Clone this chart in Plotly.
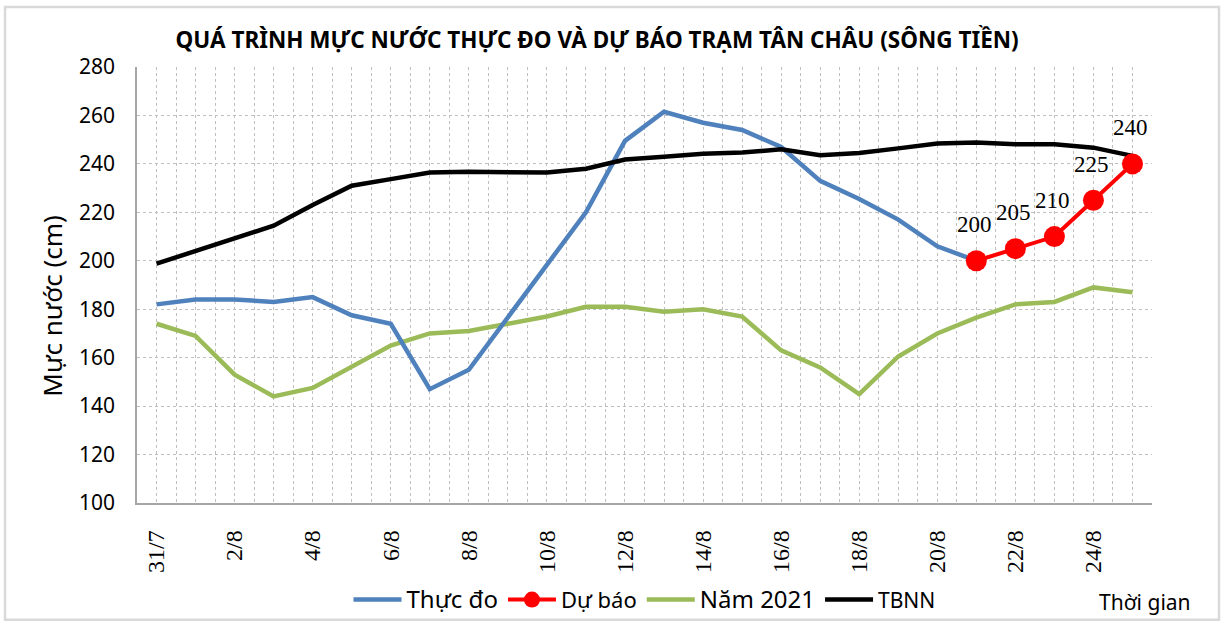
import plotly.graph_objects as go

categories = ["31/7", "1/8", "2/8", "3/8", "4/8", "5/8", "6/8", "7/8", "8/8", "9/8",
              "10/8", "11/8", "12/8", "13/8", "14/8", "15/8", "16/8", "17/8", "18/8",
              "19/8", "20/8", "21/8", "22/8", "23/8", "24/8", "25/8"]

thuc_do = [182, 184, 184, 183, 185, 177.5, 174, 147, 155, 176.5, 198, 220, 249.5,
           261.5, 257, 254, 247, 233, 225.5, 217, 206, 200,
           None, None, None, None]

du_bao = [None] * 21 + [200, 205, 210, 225, 240]

nam_2021 = [174, 169, 153, 144, 147.5, 156, 165, 170, 171, 174, 177, 181, 181,
            179, 180, 177, 163, 156, 145, 160.5, 170, 176.5, 182, 183, 189, 187]

tbnn = [198.8, 204, 209.5, 214.5, 223, 231, 233.7, 236.4, 236.8, 236.4, 236.4, 238,
        241.8, 242.9, 244.2, 244.7, 246, 243.6, 244.5, 246.4, 248.4, 248.8, 248.1,
        248.1, 246.7, 243.3]

y_ticks = [100, 120, 140, 160, 180, 200, 220, 240, 260, 280]

x = list(range(len(categories)))

SANS = "Noto Sans"
SERIF = "Liberation Serif"


def lg(name, size):
    return f'<span style="font-size:{size}px">{name}</span>'


fig = go.Figure()

fig.add_trace(go.Scatter(x=x, y=nam_2021, mode="lines", name=lg("Năm 2021", 24),
                         line=dict(color="#9BBB59", width=4.5), legendrank=3))
fig.add_trace(go.Scatter(x=x, y=thuc_do, mode="lines", name=lg("Thực đo", 24),
                         line=dict(color="#4F81BD", width=4.5), legendrank=1))
fig.add_trace(go.Scatter(x=x, y=tbnn, mode="lines", name=lg("TBNN", 21),
                         line=dict(color="#000000", width=4.5), legendrank=4))
fig.add_trace(go.Scatter(x=x, y=du_bao, mode="lines+markers", name=lg("Dự báo", 22),
                         line=dict(color="#FF0000", width=4),
                         marker=dict(color="#FF0000", size=21), legendrank=2))

# data labels for forecast
for xi, yi in zip(x, du_bao):
    if yi is None:
        continue
    fig.add_annotation(x=xi, y=yi, text=f"{yi:g}", showarrow=False,
                       yshift=36, xshift=-2,
                       font=dict(family=SERIF, size=23, color="#000000"))

# axis title (y)
fig.add_annotation(xref="paper", yref="paper", x=-0.084, y=0.452,
                   xanchor="center", yanchor="middle",
                   text="Mực nước (cm)", textangle=-90, showarrow=False,
                   font=dict(family=SANS, size=26, color="#000000"))

# "Thời gian"
fig.add_annotation(xref="paper", yref="paper", x=0.993, y=-0.227,
                   xanchor="center", yanchor="middle",
                   text="Thời gian", showarrow=False,
                   font=dict(family=SANS, size=21, color="#000000"))

# outer border
fig.add_shape(type="rect", xref="paper", yref="paper",
              x0=-0.130, x1=1.066, y0=-0.268, y1=1.1376,
              line=dict(color="#D9D9D9", width=2.5), layer="below")

grid_col = "#BFBFBF"

fig.update_layout(
    width=1226, height=624,
    margin=dict(l=137, r=74, t=67, b=121, autoexpand=False),
    paper_bgcolor="white", plot_bgcolor="white",
    title=dict(text="<b>QUÁ TRÌNH MỰC NƯỚC THỰC ĐO VÀ DỰ BÁO TRẠM TÂN CHÂU (SÔNG TIỀN)</b>",
               xref="container", yref="container", x=0.487, y=0.936,
               xanchor="center", yanchor="middle",
               font=dict(family=SANS, size=22.5, color="#000000")),
    showlegend=True,
    legend=dict(orientation="h", xref="paper", yref="paper", x=0.5, y=-0.222,
                xanchor="center", yanchor="middle", itemwidth=48,
                font=dict(family=SANS, size=22, color="#000000"),
                bgcolor="rgba(0,0,0,0)"),
    xaxis=dict(range=[-0.5, 25.5], tickmode="array", automargin=False,
               tickvals=x[::2], ticktext=categories[::2], tickangle=-90,
               tickfont=dict(family=SERIF, size=24, color="#000000"),
               ticks="outside", ticklen=16, tickcolor="rgba(0,0,0,0)",
               showgrid=True, gridcolor=grid_col, griddash="dot", gridwidth=1,
               minor=dict(tickmode="linear", tick0=-0.5, dtick=0.5, showgrid=True,
                          gridcolor=grid_col, griddash="dot", gridwidth=1),
               showline=True, linecolor="#A6A6A6", linewidth=1.5,
               zeroline=False, fixedrange=True),
    yaxis=dict(range=[100, 280], tickmode="array", tickvals=y_ticks, automargin=False,
               tickfont=dict(family=SANS, size=21, color="#000000"),
               ticks="outside", ticklen=16, tickcolor="rgba(0,0,0,0)",
               showgrid=True, gridcolor=grid_col, griddash="dot", gridwidth=1,
               showline=True, linecolor="#A6A6A6", linewidth=1.5,
               zeroline=False, fixedrange=True),
)

fig.write_html("out.html",
               config={"displayModeBar": False},
               post_script="document.body.style.margin='0px';document.body.style.overflow='hidden';")
